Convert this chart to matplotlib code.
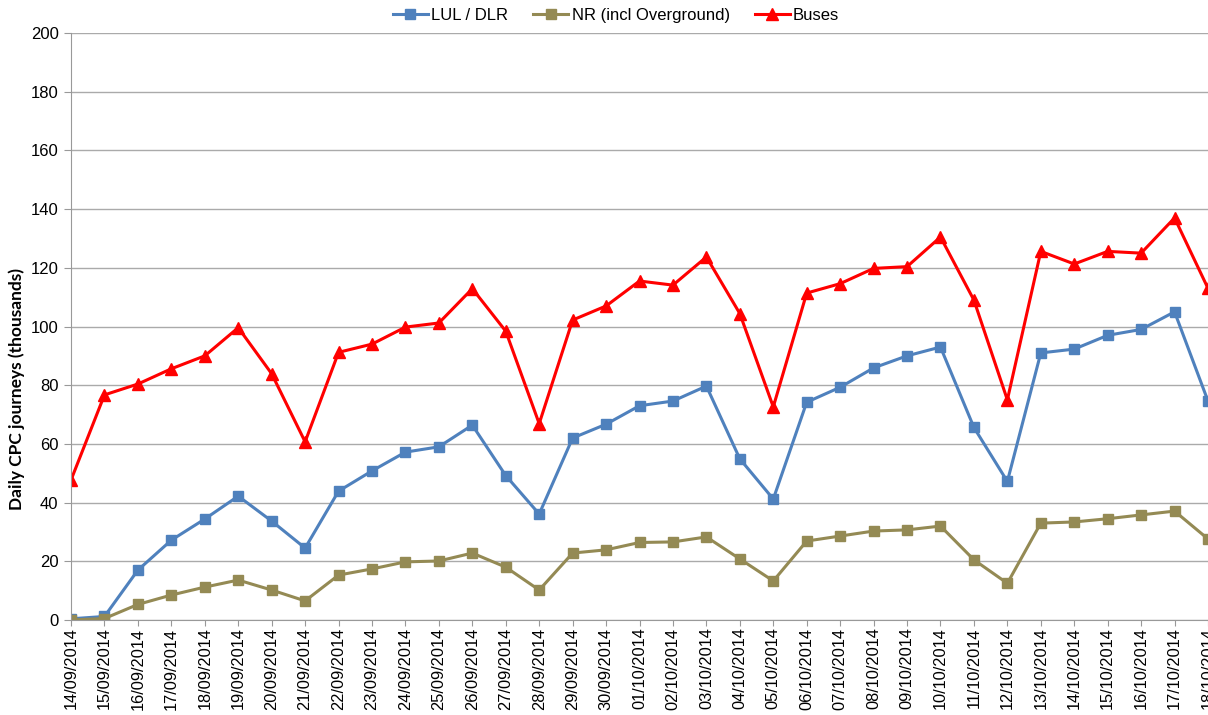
import matplotlib.pyplot as plt
import numpy as np

plt.rcParams['font.family'] = ['Liberation Sans', 'DejaVu Sans']

dates = ['14/09/2014', '15/09/2014', '16/09/2014', '17/09/2014', '18/09/2014',
         '19/09/2014', '20/09/2014', '21/09/2014', '22/09/2014', '23/09/2014',
         '24/09/2014', '25/09/2014', '26/09/2014', '27/09/2014', '28/09/2014',
         '29/09/2014', '30/09/2014', '01/10/2014', '02/10/2014', '03/10/2014',
         '04/10/2014', '05/10/2014', '06/10/2014', '07/10/2014', '08/10/2014',
         '09/10/2014', '10/10/2014', '11/10/2014', '12/10/2014', '13/10/2014',
         '14/10/2014', '15/10/2014', '16/10/2014', '17/10/2014', '18/10/2014']

lul_dlr = [0.4, 1.2, 17.0, 27.2, 34.4, 42.2, 33.7, 24.5, 43.9, 50.8,
           57.2, 59.0, 66.4, 49.2, 36.1, 62.0, 66.7, 73.0, 74.6, 79.7,
           54.9, 41.2, 74.2, 79.3, 85.9, 90.0, 93.0, 65.6, 47.2, 91.0,
           92.3, 97.0, 99.0, 105.0, 74.6]
nr = [0.0, 0.5, 5.3, 8.5, 11.2, 13.6, 10.2, 6.5, 15.3, 17.4,
      19.8, 20.1, 22.8, 18.0, 10.2, 22.8, 23.9, 26.4, 26.6, 28.3,
      20.8, 13.3, 26.9, 28.6, 30.3, 30.7, 32.0, 20.5, 12.5, 33.0,
      33.4, 34.5, 35.8, 37.1, 27.6]
buses = [47.7, 76.7, 80.4, 85.6, 90.0, 99.6, 83.9, 60.7, 91.2, 94.0,
         99.8, 101.2, 112.9, 98.4, 66.9, 102.2, 107.0, 115.5, 114.1, 123.7,
         104.4, 72.6, 111.4, 114.6, 119.8, 120.4, 130.5, 109.0, 75.0, 125.6,
         121.3, 125.6, 125.0, 137.0, 113.0]

x = np.arange(len(dates))

fig = plt.figure(figsize=(12.08, 7.15), dpi=100)
ax = fig.add_axes([0.0588, 0.1329, 0.9412, 0.8209])

ax.plot(x, lul_dlr, color='#4F81BD', lw=2.2, marker='s', ms=7, label='LUL / DLR')
ax.plot(x, nr, color='#948A54', lw=2.2, marker='s', ms=7, label='NR (incl Overground)')
ax.plot(x, buses, color='#FF0000', lw=2.2, marker='^', ms=9, label='Buses')

ax.set_xlim(0, 34)
ax.set_ylim(0, 200)
ax.set_yticks(range(0, 201, 20))
ax.set_xticks(x)
ax.set_xticklabels(dates, rotation=90, fontsize=11.8)
ax.tick_params(axis='y', labelsize=12, length=5, color='#999999', pad=4)
ax.tick_params(axis='x', length=4, color='#999999', pad=1.5)

ax.grid(axis='y', color='#aaaaaa', lw=1)
ax.set_axisbelow(True)
for s in ['top', 'right']:
    ax.spines[s].set_visible(False)
ax.spines['left'].set_color('#999999')
ax.spines['bottom'].set_color('#999999')

ax.set_ylabel('Daily CPC journeys (thousands)', fontsize=12.5, fontweight='bold',
              family=['Lato', 'DejaVu Sans'])
ax.yaxis.set_label_coords(-0.0405, 0.3935)

fig.legend(loc='center', bbox_to_anchor=(0.51, 0.979), ncol=3, frameon=False,
           fontsize=12, handlelength=2.1, handletextpad=0.2, columnspacing=1.5)

fig.savefig('out.png', dpi=100)
